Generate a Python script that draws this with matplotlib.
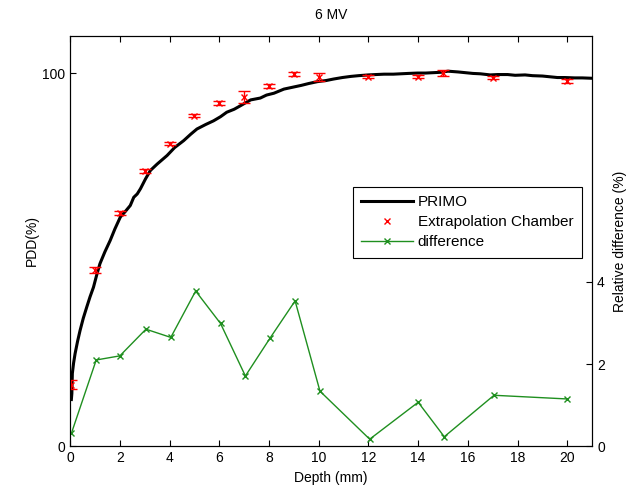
import matplotlib
matplotlib.use("Agg")
import matplotlib.pyplot as plt
from matplotlib.lines import Line2D

plt.rcParams['font.family'] = ['Liberation Sans', 'DejaVu Sans']

# PRIMO simulated PDD curve
primo_depth = [0.05, 0.07, 0.09, 0.14, 0.2, 0.3, 0.4, 0.53, 0.67, 0.8, 0.94, 1.07,
               1.2, 1.4, 1.61, 1.8, 2.02, 2.22, 2.42, 2.56, 2.7, 2.83, 3.03, 3.23,
               3.5, 3.9, 4.2, 4.57, 4.85, 5.1, 5.45, 5.77, 6.05, 6.3, 6.6, 6.84,
               7.05, 7.26, 7.65, 7.9, 8.2, 8.6, 8.95, 9.3, 9.6, 9.95, 10.3, 10.6,
               10.95, 11.29, 11.6, 12.0, 12.3, 12.63, 13.0, 13.3, 13.6, 13.98,
               14.3, 14.6, 14.9, 15.2, 15.6, 15.9, 16.2, 16.5, 16.9, 17.2, 17.6,
               17.9, 18.3, 18.6, 19.0, 19.3, 19.6, 19.9, 20.3, 20.6, 21.0]
primo_pdd = [12.5, 14.1, 19.5, 22.3, 24.8, 28.1, 31.0, 34.3, 37.3, 40.0, 42.6, 45.9,
             48.9, 52.1, 55.1, 58.2, 61.4, 62.9, 64.5, 66.7, 67.6, 69.0, 71.6, 73.9,
             75.6, 77.9, 80.0, 81.9, 83.6, 85.0, 86.2, 87.2, 88.3, 89.5, 90.3,
             91.2, 92.0, 92.8, 93.3, 94.1, 94.6, 95.7, 96.2, 96.7, 97.2, 97.7,
             98.0, 98.4, 98.8, 99.1, 99.3, 99.5, 99.6, 99.7, 99.7, 99.8, 99.9,
             100.0, 100.0, 100.1, 100.2, 100.5, 100.3, 100.1, 99.9, 99.8, 99.5,
             99.6, 99.6, 99.4, 99.5, 99.3, 99.2, 99.0, 98.8, 98.8, 98.7, 98.7, 98.6]

# Extrapolation chamber measurements
ec_depth = [0.05, 1, 2, 3, 4, 5, 6, 7, 8, 9, 10, 12, 14, 15, 17, 20]
ec_pdd = [16.5, 47.2, 62.4, 73.7, 81.1, 88.6, 91.9, 93.7, 96.6, 99.7, 99.0,
          99.0, 99.0, 100.1, 98.8, 97.9]
ec_err = [1.2, 0.8, 0.5, 0.5, 0.5, 0.5, 0.5, 1.6, 0.5, 0.6, 1.0,
          0.4, 0.4, 0.8, 0.5, 0.5]

# relative difference (%)
diff_depth = [0.05, 1.05, 2, 3.05, 4.05, 5.05, 6.05, 7.05, 8.05, 9.05, 10.05,
              12.05, 14, 15.05, 17.05, 20]
diff_val = [0.31, 2.1, 2.2, 2.85, 2.65, 3.78, 2.99, 1.71, 2.64, 3.54, 1.34,
            0.17, 1.07, 0.23, 1.24, 1.15]

fig = plt.figure(figsize=(6.26, 4.93), dpi=100)
ax = fig.add_axes([0.112, 0.095, 0.834, 0.8325])

ax.plot(primo_depth, primo_pdd, color='black', lw=2.2, zorder=2)
ax.errorbar(ec_depth, ec_pdd, yerr=ec_err, fmt='x', color='red', ms=5,
            mew=1, elinewidth=1, capsize=4, capthick=1, zorder=3)
ax.set_xlim(0, 21)
ax.set_ylim(0, 110)
ax.set_xticks(range(0, 21, 2))
ax.set_yticks([0, 100])
ax.tick_params(direction='in', top=True, length=4, labelsize=10)
ax.set_xlabel("Depth (mm)", fontsize=10)
ax.set_ylabel("PDD(%)", fontsize=10, labelpad=2)
ax.set_title("6 MV", fontsize=10, pad=12)

ax2 = ax.twinx()
ax2.plot(diff_depth, diff_val, color='#1f8f1f', lw=1, marker='x', ms=5, mew=1)
ax2.set_ylim(0, 10)
ax2.set_xlim(0, 21)
ax2.set_yticks([0, 2, 4])
ax2.tick_params(direction='in', length=4, labelsize=10)
ax2.set_ylabel("Relative difference (%)", fontsize=10, labelpad=6)

handles = [Line2D([], [], color='black', lw=2.2),
           Line2D([], [], color='red', ls='none', marker='x', ms=5),
           Line2D([], [], color='#1f8f1f', lw=1, marker='x', ms=5)]
labels = ["PRIMO", "Extrapolation Chamber", "difference"]
leg = ax2.legend(handles, labels, loc='lower left', bbox_to_anchor=(0.5416, 0.459),
                 fontsize=11, frameon=True, fancybox=False, edgecolor='black',
                 framealpha=1, handlelength=3.4, handletextpad=0.3,
                 labelspacing=0.4, borderpad=0.55, borderaxespad=0)
leg.get_frame().set_linewidth(0.8)

for a in (ax, ax2):
    for s in a.spines.values():
        s.set_linewidth(0.8)

fig.savefig("out.png", dpi=100)
